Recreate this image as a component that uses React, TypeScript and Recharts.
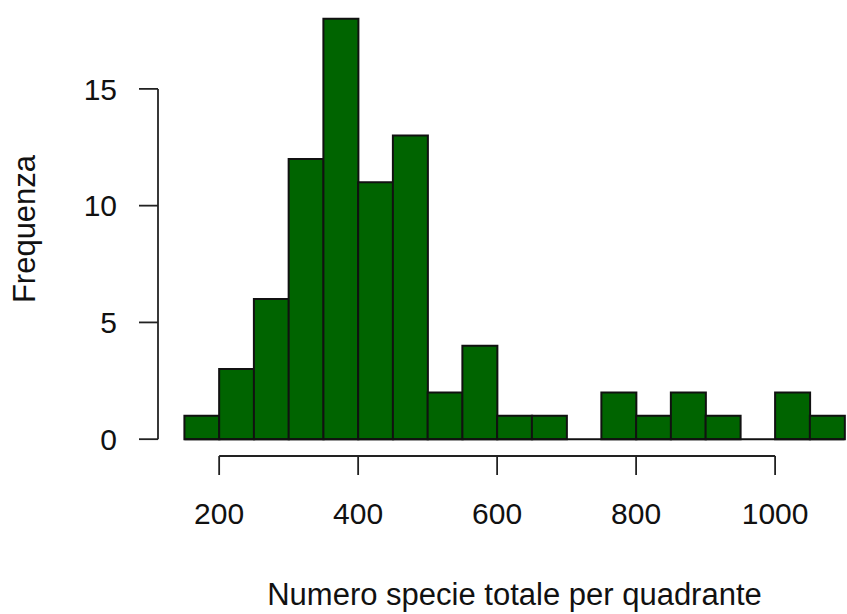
import { ComposedChart, Bar, Line, XAxis, YAxis, ReferenceLine } from 'recharts'

// histogram: species count per quadrat, bins of 50
const BIN_STARTS = [150, 200, 250, 300, 350, 400, 450, 500, 550, 600, 650, 700, 750, 800, 850, 900, 950, 1000, 1050]
const BIN_WIDTH = 50
const COUNTS = [1, 3, 6, 12, 18, 11, 13, 2, 4, 1, 1, 0, 2, 1, 2, 1, 0, 2, 1]
const X_TICKS = [200, 400, 600, 800, 1000]
const Y_TICKS = [0, 5, 10, 15]

// R-style plot region: data range plus 4% each side
const X_DOMAIN: [number, number] = [112, 1138]
const Y_DOMAIN: [number, number] = [-0.72, 18.72]

const CHART_W = 880
const CHART_H = 614
const MARGIN = { top: 2, right: 9, bottom: 0, left: 0 }
const Y_AXIS_W = 158
const X_AXIS_H = 158

const FONT = '"Liberation Sans", Arial, sans-serif'
const INK = '#111'
const AXIS = '#222'

const binLo = BIN_STARTS[0]
const binHi = BIN_STARTS[BIN_STARTS.length - 1] + BIN_WIDTH

// keep the hidden category axis aligned with the numeric one
const plotW = CHART_W - MARGIN.left - MARGIN.right - Y_AXIS_W
const pxPerUnit = plotW / (X_DOMAIN[1] - X_DOMAIN[0])
const binPad = {
  left: (binLo - X_DOMAIN[0]) * pxPerUnit,
  right: (X_DOMAIN[1] - binHi) * pxPerUnit,
}

const data = BIN_STARTS.map((s, i) => ({
  bin: `${s}-${s + BIN_WIDTH}`,
  mid: s + BIN_WIDTH / 2,
  count: COUNTS[i],
}))

export default function App() {
  return (
    <div style={{ position: 'absolute', left: 0, top: 0, width: 847, height: 614, overflow: 'hidden', background: '#fff' }}>
      <ComposedChart width={CHART_W} height={CHART_H} data={data} margin={MARGIN} barCategoryGap={0}>
        <XAxis xAxisId="bins" dataKey="bin" type="category" hide height={0} padding={binPad} />
        <XAxis
          xAxisId="num"
          dataKey="mid"
          type="number"
          domain={X_DOMAIN}
          ticks={X_TICKS}
          allowDataOverflow
          interval={0}
          height={X_AXIS_H}
          axisLine={false}
          tickSize={19}
          tickMargin={28}
          tickLine={{ stroke: AXIS, strokeWidth: 1.8 }}
          tick={{ fill: INK, fontSize: 30, fontFamily: FONT }}
          label={{
            value: 'Numero specie totale per quadrante',
            position: 'insideBottom',
            offset: 9,
            style: { fill: INK, fontSize: 31, fontFamily: FONT },
          }}
        />
        <YAxis
          domain={Y_DOMAIN}
          ticks={Y_TICKS}
          allowDataOverflow
          interval={0}
          width={Y_AXIS_W}
          axisLine={false}
          tickSize={19}
          tickMargin={22}
          tickLine={{ stroke: AXIS, strokeWidth: 1.8 }}
          tick={{ fill: INK, fontSize: 30, fontFamily: FONT }}
          label={{
            value: 'Frequenza',
            angle: -90,
            position: 'insideLeft',
            offset: 24,
            style: { fill: INK, fontSize: 31, fontFamily: FONT, textAnchor: 'middle' },
          }}
        />
        <Bar
          xAxisId="bins"
          dataKey="count"
          fill="#006400"
          stroke={INK}
          strokeWidth={2}
          isAnimationActive={false}
        />
        {/* invisible series that ties the numeric axis to the data */}
        <Line
          xAxisId="num"
          dataKey="count"
          stroke="none"
          dot={false}
          activeDot={false}
          legendType="none"
          isAnimationActive={false}
        />
        <ReferenceLine
          xAxisId="num"
          ifOverflow="visible"
          stroke={INK}
          strokeWidth={2}
          segment={[{ x: binLo, y: 0 }, { x: binHi, y: 0 }]}
        />
        <ReferenceLine
          xAxisId="num"
          ifOverflow="visible"
          stroke={AXIS}
          strokeWidth={1.8}
          segment={[{ x: X_DOMAIN[0], y: Y_TICKS[0] }, { x: X_DOMAIN[0], y: Y_TICKS[Y_TICKS.length - 1] }]}
        />
        <ReferenceLine
          xAxisId="num"
          ifOverflow="visible"
          stroke={AXIS}
          strokeWidth={1.8}
          segment={[{ x: X_TICKS[0], y: Y_DOMAIN[0] }, { x: X_TICKS[X_TICKS.length - 1], y: Y_DOMAIN[0] }]}
        />
      </ComposedChart>
    </div>
  )
}
